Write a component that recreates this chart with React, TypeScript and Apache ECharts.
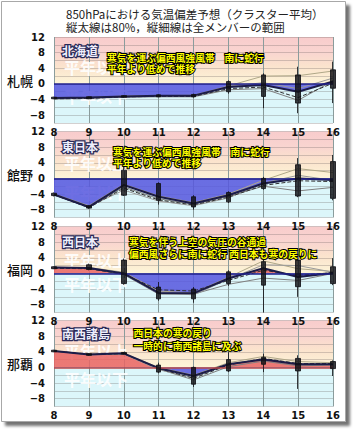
import React, { useEffect, useRef } from 'react';
import * as echarts from 'echarts';

const days = ['8', '9', '10', '11', '12', '13', '14', '15', '16'];
const stations = ['札幌', '館野', '福岡', '那覇'];
const regions = ['北海道', '東日本', '西日本', '南西諸島'];
const titleLines = ['850hPaにおける気温偏差予想（クラスター平均）', '縦太線は80%，縦細線は全メンバーの範囲'];
const notes = [
  ['寒気を運ぶ偏西風強風帯　南に蛇行', '平年より低めで推移'],
  ['寒気を運ぶ偏西風強風帯　南に蛇行', '平年より低めで推移'],
  ['寒気を伴う上空の気圧の谷通過', '偏西風さらに南に蛇行 西日本も寒の戻りに'],
  ['西日本の寒の戻り', '一時的に南西諸島に及ぶ'],
];
const aboveText = '平年以上';
const belowText = '平年以下';

// cluster mean
const meanSapporo = [-3.6, -3.5, -3.2, -3.0, -3.0, -0.8, -0.3, -2.0, 0.6];
const meanTateno = [-4.1, -7.3, -1.7, -4.7, -6.4, -4.3, -1.3, 0.0, -0.4];
const meanFukuoka = [1.5, 1.4, 0.0, -5.0, -5.1, -1.3, 1.3, -0.9, 0.1];
const meanNaha = [4.2, 3.3, 3.6, -0.2, -2.2, 0.8, 2.0, 0.8, 0.8];

// member lines (thin)
const dashSapporo = [-3.8, -3.7, -3.3, -3.2, -3.2, -1.2, -0.8, -3.5, 0.2];
const m1Sapporo = [-3.7, -3.6, -3.2, -3.1, -3.1, -0.5, 2.0, 2.1, 3.3];
const m2Sapporo = [-3.8, -3.7, -3.4, -3.3, -3.3, -1.5, -1.2, -4.2, 0.8];
const m3Sapporo = [-3.6, -3.5, -3.1, -3.0, -2.9, -0.6, 0.3, -1.2, 1.5];

const dashTateno = [-4.2, -7.5, -2.5, -5.5, -6.8, -4.8, -1.8, -0.6, -0.8];
const m1Tateno = [-4.0, -7.0, -1.5, -4.5, -6.2, -4.0, -0.5, 2.5, 1.5];
const m2Tateno = [-4.2, -7.4, -2.2, -5.2, -6.6, -4.6, -2.0, -3.2, -2.3];
const m3Tateno = [-4.1, -7.2, -3.0, -5.8, -7.0, -5.0, -1.2, 0.8, -0.5];

const dashFukuoka = [1.3, 1.2, -0.2, -4.2, -4.5, -1.8, 0.8, -0.5, 0.2];
const m1Fukuoka = [1.5, 1.5, 0.3, -4.5, -5.0, -1.0, 3.2, 1.2, 0.5];
const m2Fukuoka = [1.4, 1.3, -0.3, -5.3, -5.3, -2.8, -1.2, -1.8, 0.0];
const m3Fukuoka = [1.6, 1.4, 0.1, -4.8, -5.5, -1.5, 2.2, 2.0, 0.3];

const dashNaha = [4.2, 3.3, 3.5, -0.3, -2.8, 0.6, 2.3, 1.0, 1.0];
const m1Naha = [4.2, 3.4, 3.6, 0.0, -2.0, 1.2, 2.8, 1.5, 1.2];
const m2Naha = [4.2, 3.3, 3.5, -0.4, -3.2, 0.2, 1.6, 0.4, 0.6];
const m3Naha = [4.2, 3.2, 3.4, -0.6, -2.6, 0.8, 2.2, 1.0, 0.9];

// 80% range (thick) and full member range (thin)
const p80LoSapporo = [-3.8, -3.8, -3.4, -3.3, -3.3, -2.0, -3.2, -4.9, -1.1];
const p80HiSapporo = [-3.4, -3.3, -3.0, -2.8, -2.7, 0.6, 2.3, 2.3, 3.6];
const allLoSapporo = [-3.9, -3.9, -3.5, -3.4, -3.5, -2.5, -6.2, -7.5, -4.9];
const allHiSapporo = [-3.3, -3.2, -2.9, -2.7, -2.5, 0.9, 2.7, 4.4, 5.7];

const p80LoTateno = [-4.4, -7.6, -4.3, -5.6, -7.3, -6.0, -2.6, -4.5, -5.1];
const p80HiTateno = [-3.8, -7.0, 2.1, -1.3, -4.7, -3.6, 0.0, 3.5, 4.3];
const allLoTateno = [-4.6, -7.8, -4.5, -6.7, -8.0, -6.3, -2.9, -4.8, -5.6];
const allHiTateno = [-3.6, -6.8, 3.0, -1.0, -4.3, -3.3, 0.4, 5.2, 6.0];

const p80LoFukuoka = [1.2, 1.0, -2.6, -6.5, -6.5, -2.6, -3.0, -3.4, -2.6];
const p80HiFukuoka = [1.7, 2.2, 3.4, -3.5, -4.0, 0.4, 3.0, 3.4, 1.7];
const allLoFukuoka = [1.1, 0.8, -2.9, -7.0, -7.5, -3.2, -10.0, -6.0, -3.0];
const allHiFukuoka = [1.8, 2.5, 3.8, -2.2, -3.5, 0.8, 6.0, 3.9, 3.9];

const p80LoNaha = [4.0, 3.1, 3.4, -1.2, -4.3, -0.9, 0.8, -0.9, -0.3];
const p80HiNaha = [4.4, 3.5, 3.8, 0.6, 0.0, 2.0, 2.6, 2.3, 1.5];
const allLoNaha = [3.9, 3.0, 3.3, -1.5, -5.0, -1.2, -1.2, -5.5, -2.2];
const allHiNaha = [4.5, 3.6, 3.9, 1.2, 0.2, 3.9, 3.5, 3.1, 1.8];

const means = [meanSapporo, meanTateno, meanFukuoka, meanNaha];
const dashes = [dashSapporo, dashTateno, dashFukuoka, dashNaha];
const members1 = [m1Sapporo, m1Tateno, m1Fukuoka, m1Naha];
const members2 = [m2Sapporo, m2Tateno, m2Fukuoka, m2Naha];
const members3 = [m3Sapporo, m3Tateno, m3Fukuoka, m3Naha];
const p80Lo = [p80LoSapporo, p80LoTateno, p80LoFukuoka, p80LoNaha];
const p80Hi = [p80HiSapporo, p80HiTateno, p80HiFukuoka, p80HiNaha];
const allLo = [allLoSapporo, allLoTateno, allLoFukuoka, allLoNaha];
const allHi = [allHiSapporo, allHiTateno, allHiFukuoka, allHiNaha];

const Y_MIN = -10;
const Y_MAX = 12;

const TOPS = [37, 131.5, 226.5, 320.5];
const H = 86;
const LEFT = 54;
const WIDTH = 279;
const vy = (p: number, v: number) => TOPS[p] + ((Y_MAX - v) * H) / (Y_MAX - Y_MIN);

const NUM_FONT = 'DejaVu Sans';
const JP_FONT = '"Noto Sans CJK JP", "Noto Sans CJK SC", sans-serif';

export default function App() {
  const ref = useRef<HTMLDivElement>(null);
  useEffect(() => {
    if (!ref.current) return;
    const chart = echarts.init(ref.current, undefined, { renderer: 'svg' });
    const zeroOff = Y_MAX / (Y_MAX - Y_MIN);
    const grids: any[] = [];
    const xAxes: any[] = [];
    const yAxes: any[] = [];
    const series: any[] = [];
    const areaIdx: number[] = [];
    for (let p = 0; p < 4; p++) {
      grids.push({
        left: LEFT,
        top: TOPS[p],
        width: WIDTH,
        height: H,
        show: true,
        borderWidth: 0,
        backgroundColor: new echarts.graphic.LinearGradient(0, 0, 0, 1, [
          { offset: 0, color: '#f8cccc' },
          { offset: 0.17, color: '#f9d4d0' },
          { offset: 0.34, color: '#fbe3cd' },
          { offset: zeroOff, color: '#fdf5d8' },
          { offset: zeroOff, color: '#dcf6fa' },
          { offset: 1, color: '#dcf6fa' },
        ]),
      });
      xAxes.push({
        type: 'category',
        gridIndex: p,
        data: days,
        boundaryGap: false,
        axisLine: { show: false },
        axisTick: { show: false },
        axisLabel: {
          interval: 0,
          fontSize: 10,
          fontWeight: 'bold',
          fontFamily: NUM_FONT,
          color: '#111',
          margin: 4,
        },
        splitLine: { show: true, interval: 0, lineStyle: { color: '#8a9c9c', width: 1 } },
      });
      yAxes.push({
        type: 'value',
        gridIndex: p,
        min: Y_MIN,
        max: Y_MAX,
        interval: 2,
        axisLine: { show: false },
        axisTick: { show: false },
        axisLabel: {
          fontSize: 10,
          fontWeight: 'bold',
          fontFamily: NUM_FONT,
          color: '#111',
          margin: 9,
          formatter: (v: number) => (v % 4 === 0 ? (v < 0 ? '−' + -v : String(v)) : ''),
        },
        splitLine: { show: true, lineStyle: { color: 'rgba(110,100,100,0.3)', width: 1 } },
      });
      areaIdx.push(series.length);
      series.push({
        type: 'line',
        xAxisIndex: p,
        yAxisIndex: p,
        data: means[p],
        showSymbol: false,
        silent: true,
        lineStyle: { width: 0 },
        areaStyle: { opacity: 0.85 },
        z: 2,
      });
      const thin = (data: number[], color: string, type: string = 'solid') => ({
        type: 'line',
        xAxisIndex: p,
        yAxisIndex: p,
        data,
        showSymbol: false,
        silent: true,
        lineStyle: { color, width: 1, type },
        z: 3,
      });
      series.push(thin(members1[p], '#b0a888'));
      series.push(thin(members2[p], '#808080'));
      series.push(thin(members3[p], '#9a9a9a'));
      series.push(thin(dashes[p], '#303030', 'dashed'));
      series.push({
        type: 'line',
        xAxisIndex: p,
        yAxisIndex: p,
        data: means[p],
        showSymbol: false,
        silent: true,
        lineStyle: { color: '#1c1c48', width: 2 },
        z: 4,
        markLine: {
          silent: true,
          symbol: 'none',
          label: { show: false },
          lineStyle: { color: p === 3 ? '#b84848' : '#20208a', width: 1.5, type: 'solid' },
          data: [{ yAxis: 0 }],
        },
      });
      series.push({
        type: 'candlestick',
        xAxisIndex: p,
        yAxisIndex: p,
        clip: false,
        barWidth: 5,
        silent: true,
        z: 5,
        data: days.map((_, i) => [p80Lo[p][i], p80Hi[p][i], allLo[p][i], allHi[p][i]]),
        itemStyle: {
          color: 'rgba(15,15,20,0.82)',
          color0: 'rgba(15,15,20,0.82)',
          borderColor: 'rgba(15,15,20,0.82)',
          borderColor0: 'rgba(15,15,20,0.82)',
          borderWidth: 1,
        },
      });
    }

    const graphics: any[] = [];
    graphics.push({
      type: 'rect',
      z: -10,
      shape: { x: 1.5, y: 1.5, width: 344, height: 420 },
      style: {
        fill: '#fff',
        stroke: '#a8a8a8',
        lineWidth: 1,
        shadowBlur: 3,
        shadowOffsetX: 4,
        shadowOffsetY: 4,
        shadowColor: 'rgba(0,0,0,0.55)',
      },
      silent: true,
    });
    graphics.push({
      type: 'text',
      x: 66,
      y: 7.5,
      style: {
        text: titleLines.join('\n'),
        fill: '#222',
        font: `11.5px ${JP_FONT}`,
        lineHeight: 13,
        textVerticalAlign: 'top',
      },
      silent: true,
    });
    const regionY = [50.5, 146.5, 241.5, 333];
    const noteX = [107, 113, 129, 133.5];
    const noteTop = [52, 146.8, 236.3, 327];
    const noteLH = [11, 10.8, 12, 12.7];
    const aboveV = [4.3, 3.9, 3.4, 4.3];
    const belowV = [-3, -3.4, -2.6, -3];
    for (let p = 0; p < 4; p++) {
      graphics.push({
        type: 'text',
        x: 20,
        y: vy(p, 1),
        z: 50,
        style: {
          text: stations[p],
          fill: '#111',
          font: `500 13px ${JP_FONT}`,
          textAlign: 'center',
          textVerticalAlign: 'middle',
        },
        silent: true,
      });
      [
        [aboveText, aboveV[p]],
        [belowText, belowV[p]],
      ].forEach(([t, v]) => {
        graphics.push({
          type: 'text',
          x: 64,
          y: vy(p, v as number),
          z: 1,
          style: {
            text: t,
            fill: 'rgba(255,255,255,0.9)',
            font: `bold 16px ${JP_FONT}`,
            textVerticalAlign: 'middle',
            shadowColor: 'rgba(90,90,90,0.45)',
            shadowBlur: 1,
            shadowOffsetX: 1,
            shadowOffsetY: 1,
          },
          silent: true,
        });
      });
      graphics.push({
        type: 'text',
        x: 62,
        y: regionY[p],
        z: 55,
        style: {
          text: regions[p],
          fill: '#eeeefc',
          stroke: '#2a2a58',
          lineWidth: 2.5,
          strokeFirst: true,
          font: `bold 12px ${JP_FONT}`,
          textVerticalAlign: 'middle',
        },
        silent: true,
      });
      graphics.push({
        type: 'text',
        x: noteX[p],
        y: noteTop[p],
        z: 60,
        style: {
          text: notes[p].join('\n'),
          fill: '#ffff00',
          stroke: '#000',
          lineWidth: 2,
          strokeFirst: true,
          font: `bold 9.8px ${JP_FONT}`,
          lineHeight: noteLH[p],
          textVerticalAlign: 'top',
        },
        silent: true,
      });
    }

    chart.setOption({
      animation: false,
      backgroundColor: 'transparent',
      grid: grids,
      xAxis: xAxes,
      yAxis: yAxes,
      visualMap: {
        show: false,
        type: 'piecewise',
        dimension: 1,
        seriesIndex: areaIdx,
        pieces: [
          { gt: 0, lte: 50, color: '#e86464' },
          { gte: -50, lte: 0, color: '#5656de' },
        ],
      },
      series,
      graphic: graphics,
    });
    return () => chart.dispose();
  }, []);
  return (
    <div
      ref={ref}
      style={{ position: 'absolute', left: 0, top: 0, width: 353, height: 429, background: '#fff' }}
    />
  );
}
